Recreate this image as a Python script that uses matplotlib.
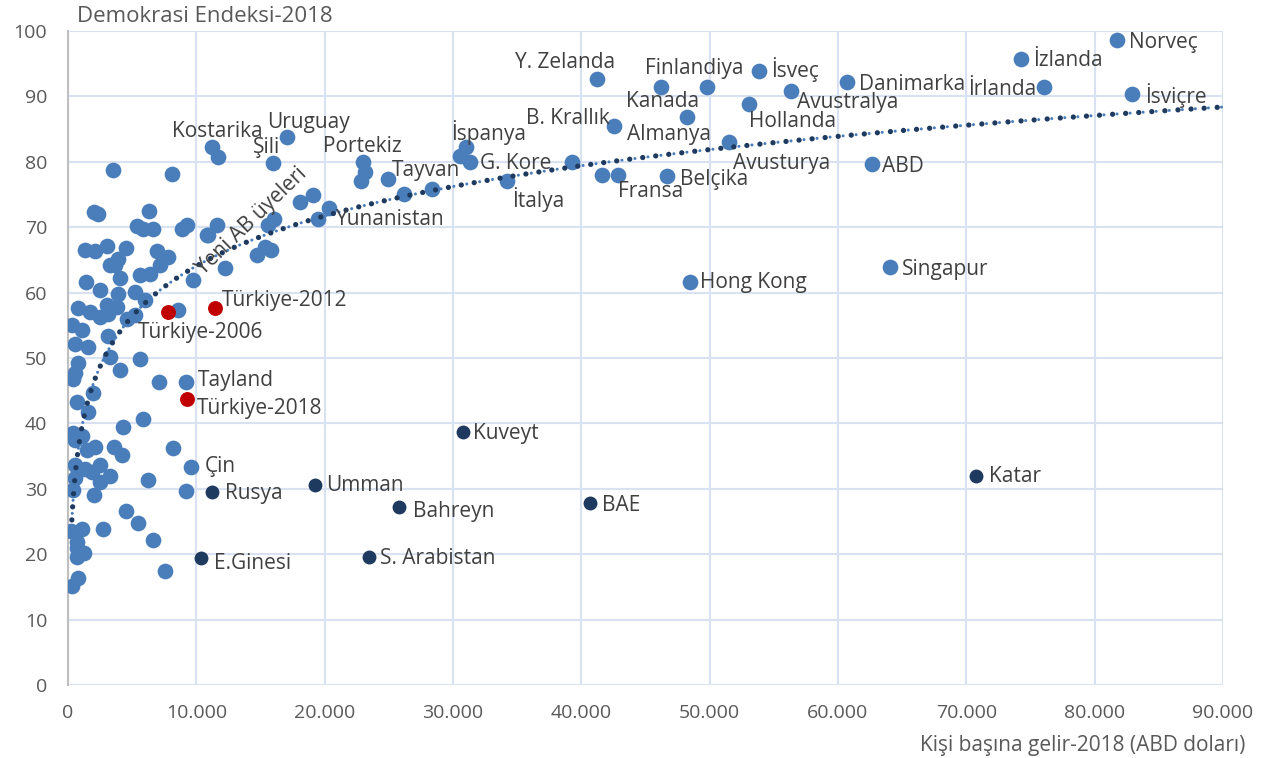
import numpy as np
import matplotlib
matplotlib.use("Agg")
import matplotlib.pyplot as plt
from matplotlib.ticker import FuncFormatter

plt.rcParams['font.family'] = ['Open Sans', 'DejaVu Sans']

# ---- data: GDP per capita (USD) and democracy index (x10) ----
# labelled points
lab_names = ["Norveç", "İzlanda", "İrlanda", "İsviçre", "Danimarka", "İsveç",
             "Avustralya", "Hollanda", "Finlandiya", "Kanada", "Almanya",
             "B. Krallık", "Y. Zelanda", "Avusturya", "ABD", "Belçika", "Fransa",
             "İtalya", "G. Kore", "İspanya", "Tayvan", "Portekiz", "Uruguay",
             "Kostarika", "Şili", "Yunanistan", "Hong Kong", "Singapur",
             "Tayland", "Çin"]
lab_gdp = [81740, 74260, 76070, 82910, 60680, 53870,
           56300, 53090, 49820, 46210, 48210,
           42550, 41190, 51530, 62620, 46700, 41580,
           34190, 31320, 30990, 24910, 22960, 17060,
           11220, 15970, 20360, 48470, 64050,
           9190, 9560]
lab_dem = [98.6, 95.7, 91.5, 90.4, 92.2, 93.9,
           90.9, 88.9, 91.4, 91.5, 86.9,
           85.4, 92.6, 83.0, 79.6, 77.8, 78.0,
           77.1, 80.0, 82.2, 77.3, 79.9, 83.8,
           82.3, 79.8, 73.0, 61.6, 63.9,
           46.4, 33.4]

# oil states and other rich authoritarian countries
dark_names = ["Kuveyt", "Katar", "Umman", "Bahreyn", "BAE", "S. Arabistan",
              "Rusya", "E.Ginesi"]
dark_gdp = [30780, 70750, 19250, 25790, 40670, 23450, 11220, 10360]
dark_dem = [38.7, 32.0, 30.6, 27.2, 27.8, 19.6, 29.5, 19.4]

# Turkey over time
tr_names = ["Türkiye-2006", "Türkiye-2012", "Türkiye-2018"]
tr_gdp = [7820, 11450, 9250]
tr_dem = [57.0, 57.7, 43.8]

# other (unlabelled) countries
oth_gdp = [39270, 42830, 30540, 23140, 22800, 26200, 28340, 19070, 18080, 19500,
           11690,
           3480, 8080, 2030, 2360, 6340, 5350, 5870, 6650, 8860, 9250, 10800,
           11590, 16080, 15610, 1320, 2100, 3010, 4520, 3920, 3270, 3660, 6910,
           7820, 7170, 10930, 12230, 14700, 15820, 15350, 5610, 6390, 4050,
           1380, 2490, 3870, 5220, 9760, 800, 1710, 3020, 3790, 6000, 4570,
           5220, 2490, 3140, 290, 1070, 550, 1580, 3140, 8590,
           3270, 5610, 800, 550, 410, 4050, 7110, 1970, 680, 1580, 5870, 4260,
           410, 1070, 550, 2100, 1460, 3610, 4180, 8200, 550, 1320, 1850,
           2490, 2490, 3270, 550, 410, 2050, 6260, 9190, 4520, 5430, 230,
           1070, 2700, 6650, 680, 680, 1270, 680, 7560, 800, 290]
oth_dem = [80.0, 78.0, 80.9, 78.5, 77.0, 75.1, 75.9, 75.0, 73.9, 71.3,
           80.7,
           78.7, 78.1, 72.4, 72.0, 72.5, 70.2, 69.8, 69.7, 69.8, 70.3, 68.8,
           70.3, 71.3, 70.3, 66.5, 66.4, 67.2, 66.8, 65.2, 64.2, 64.2, 66.3,
           65.5, 64.2, 68.8, 63.8, 65.7, 66.5, 67.0, 62.7, 62.9, 62.2,
           61.6, 60.4, 59.8, 60.1, 62.0, 57.6, 57.1, 58.1, 57.8, 58.9, 56.0,
           56.6, 56.3, 56.8, 55.0, 54.3, 52.2, 51.7, 53.3, 57.3,
           50.2, 49.9, 49.2, 47.7, 46.8, 48.1, 46.4, 44.6, 43.3, 41.8, 40.7, 39.5,
           38.5, 38.0, 37.5, 36.4, 35.9, 36.4, 35.2, 36.2, 33.6, 33.1, 32.6,
           33.6, 31.1, 31.9, 31.6, 29.8, 29.1, 31.4, 29.6, 26.6, 24.7, 23.6,
           23.9, 23.9, 22.1, 21.9, 20.9, 20.2, 19.6, 17.5, 16.3, 15.1]

# logarithmic trendline (as shown in the chart): y = slope*ln(x) + intercept
trend_slope = 11.07
trend_intercept = -37.9
trend_x_range = [300, 90000]

x_ticks = list(range(0, 90001, 10000))
y_ticks = list(range(0, 101, 10))

# label offsets in pixels (dx, dy downwards), alignment
lab_style = {
    "Norveç": (12, 2, "left"), "İzlanda": (12, 1, "left"),
    "İrlanda": (-8, 3, "right"), "İsviçre": (13, 2, "left"),
    "Danimarka": (12, 2, "left"), "İsveç": (12, -1, "left"),
    "Avustralya": (6, 12, "left"), "Hollanda": (0, 18, "left"),
    "Finlandiya": (-13, -19, "center"), "Kanada": (2, 15, "center"),
    "Almanya": (-18, 18, "center"), "B. Krallık": (-4, -8, "right"),
    "Y. Zelanda": (-32, -17, "center"), "Avusturya": (4, 21, "left"),
    "ABD": (10, 2, "left"), "Belçika": (13, 3, "left"),
    "Fransa": (16, 17, "left"), "İtalya": (5, 19, "left"),
    "G. Kore": (10, 2, "left"), "İspanya": (23, -15, "center"),
    "Tayvan": (4, -9, "left"), "Portekiz": (0, -16, "center"),
    "Uruguay": (22, -14, "center"), "Kostarika": (5, -15, "center"),
    "Şili": (-6, -16, "center"), "Yunanistan": (7, 12, "left"),
    "Hong Kong": (10, 0, "left"), "Singapur": (12, 2, "left"),
    "Tayland": (12, -1, "left"), "Çin": (14, 0, "left"),
    "Kuveyt": (10, 2, "left"), "Katar": (13, 1, "left"),
    "Umman": (11, 1, "left"), "Bahreyn": (14, 4, "left"),
    "BAE": (12, 2, "left"), "S. Arabistan": (11, 2, "left"),
    "Rusya": (13, 1, "left"), "E.Ginesi": (13, 5, "left"),
    "Türkiye-2006": (32, 20, "center"), "Türkiye-2012": (7, -7, "left"),
    "Türkiye-2018": (10, 10, "left"),
}

BLUE = "#4A7EBB"
DARK = "#1F3A5F"
RED = "#C00000"
TXT = "#595959"
LBL = "#404040"
GRID = "#D9E2F3"

DPI = 100
fig = plt.figure(figsize=(12.71, 7.58), dpi=DPI)
ax = fig.add_axes([68 / 1271, 1 - 685 / 758, (1223 - 68) / 1271, (685 - 31) / 758])
ax.set_xlim(0, 90000)
ax.set_ylim(0, 100)
ax.set_xticks(x_ticks)
ax.set_yticks(y_ticks)
ax.xaxis.set_major_formatter(FuncFormatter(lambda v, p: f"{int(v):,}".replace(",", ".")))
ax.grid(True, color=GRID, linewidth=1.5, zorder=0)
ax.set_axisbelow(True)
for s in ["top", "right", "bottom"]:
    ax.spines[s].set_visible(False)
ax.spines["left"].set_color("#BFBFBF")
ax.spines["left"].set_linewidth(1.5)
ax.tick_params(axis="both", length=0, labelsize=14, colors=TXT)
ax.tick_params(axis="x", pad=14)
ax.tick_params(axis="y", pad=15)

# points
s_blue = 128
ax.scatter(oth_gdp, oth_dem, s=s_blue, color=BLUE, zorder=3, linewidths=0)
ax.scatter(lab_gdp, lab_dem, s=s_blue, color=BLUE, zorder=3, linewidths=0)
ax.scatter(dark_gdp, dark_dem, s=100, color=DARK, zorder=4, linewidths=0)
ax.scatter(tr_gdp, tr_dem, s=115, color=RED, zorder=4, linewidths=0)

# logarithmic trendline
tx = np.geomspace(trend_x_range[0], trend_x_range[1], 3000)
ty = trend_slope * np.log(tx) + trend_intercept
dark_lw, light_lw = 3.8, 2.2
period = 9.4  # points between dark dots
ax.plot(tx, ty, color=BLUE, lw=light_lw,
        linestyle=(period / light_lw / 2, (0.01, period / light_lw)),
        dash_capstyle="round", zorder=5)
ax.plot(tx, ty, color=DARK, lw=dark_lw, linestyle=(0, (0.01, period / dark_lw)),
        dash_capstyle="round", zorder=5)

# labels
px2pt = 72 / DPI
def put(names, xs, ys):
    for n, x, y in zip(names, xs, ys):
        dx, dy, ha = lab_style[n]
        ax.annotate(n, (x, y), xytext=(dx * px2pt, -dy * px2pt),
                    textcoords="offset points", ha=ha, va="center",
                    fontsize=15, color=LBL, zorder=6)

put(lab_names, lab_gdp, lab_dem)
put(dark_names, dark_gdp, dark_dem)
put(tr_names, tr_gdp, tr_dem)

ax.text(14300, 70.9, "Yeni AB üyeleri", rotation=44, ha="center", va="center",
        fontsize=15, color=LBL, zorder=6, rotation_mode="anchor")

fig.text(77 / 1271, 1 - 16 / 758, "Demokrasi Endeksi-2018", ha="left",
         va="center", fontsize=16, color=TXT)
fig.text(1245 / 1271, 1 - 745 / 758, "Kişi başına gelir-2018 (ABD doları)",
         ha="right", va="center", fontsize=15, color=TXT)

fig.savefig("out.png", dpi=DPI)
